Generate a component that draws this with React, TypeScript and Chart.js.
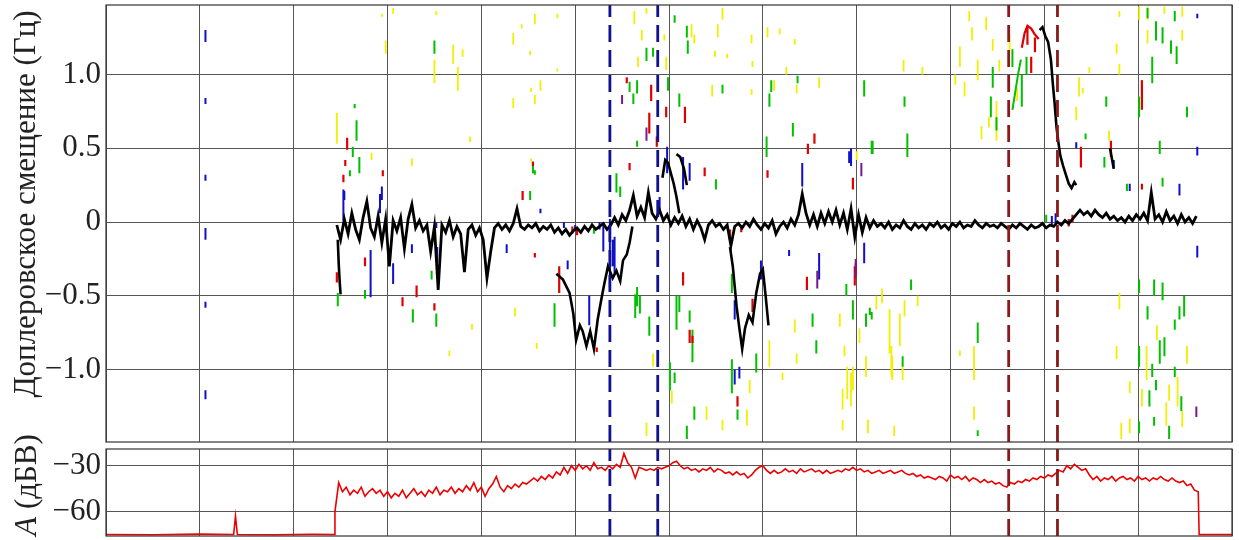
import React, { useEffect, useRef } from 'react';
import { Chart, registerables } from 'chart.js';

Chart.register(...registerables);

const FAMILY = "'Liberation Serif', 'Times New Roman', 'DejaVu Serif', serif";
const FONT_SIZE = 31;

// x axis: 12 equal (unlabelled) time intervals
const xGrid = [0, 1, 2, 3, 4, 5, 6, 7, 8, 9, 10, 11, 12];
const dopplerTicks = [-1, -0.5, 0, 0.5, 1];
const ampTicks = [-60, -45, -30];
const ampLabelled = [-60, -30];
const blueMarkers = [5.37, 5.88];
const redMarkers = [9.62, 10.14];

// amplitude (dBV)
const ampLeadIn: [number, number][] = [
  [0, -75], [0.5, -75.2], [1.0, -74.8], [1.36, -75], [1.38, -63], [1.4, -75],
  [1.8, -75.2], [2.2, -74.9], [2.43, -75],
];
const AMP_X0 = 2.44;
const AMP_DX = 0.04;
const ampValues = [
  -60, -41, -47, -44, -49, -46, -48, -44, -50, -47,
  -45, -48, -46, -50, -47, -51, -48, -50, -46, -51,
  -48, -45, -49, -47, -50, -46, -48, -44, -49, -46,
  -47, -44, -48, -45, -47, -43, -46, -41, -47, -44,
  -50, -45, -42, -37, -44, -47, -43, -45, -42, -44,
  -41, -42, -40, -38, -40, -37, -39, -36, -38, -34,
  -36, -31, -35, -30, -33, -29, -32, -30, -33, -28,
  -32, -31, -33, -30, -32, -29, -31, -22, -28, -31,
  -38, -31, -32, -33, -32, -33, -31, -32, -31, -30,
  -28, -27, -30, -32, -31, -33, -32, -34, -32, -33,
  -31, -34, -32, -33, -35, -34, -36, -34, -36, -35,
  -38, -36, -33, -31, -30, -33, -35, -33, -35, -34,
  -32, -34, -33, -35, -32, -34, -33, -32, -34, -33,
  -35, -33, -35, -34, -33, -34, -32, -33, -31, -33,
  -32, -34, -33, -35, -34, -33, -35, -34, -33, -35,
  -34, -33, -35, -36, -35, -37, -36, -38, -37, -38,
  -39, -37, -38, -40, -36, -38, -37, -39, -37, -40,
  -38, -39, -41, -39, -41, -40, -42, -41, -43, -44,
  -41, -42, -40, -41, -39, -40, -38, -39, -37, -38,
  -36, -37, -35, -33, -34, -30, -32, -29, -31, -33,
  -32, -36, -39, -37, -40, -38, -39, -37, -40, -38,
  -37, -39, -38, -40, -37, -39, -38, -40, -38, -39,
  -37, -39, -40, -38, -40, -41, -40, -43, -42, -46,
  -47,
];
const ampTail: [number, number][] = [[11.65, -75], [12, -75]];

// main Doppler trace (Hz)
const BLACK_X0 = 2.46;
const BLACK_DX = 0.04;
const blackValues = [
  -0.02, -0.12, 0.02, -0.08, 0.06, -0.05, -0.12, 0.03, 0.14, -0.04,
  -0.1, 0.04, -0.14, 0.02, -0.3, 0.01, -0.06, 0.03, -0.18, 0.02,
  0.12, -0.04, 0.01, -0.06, -0.02, -0.2, -0.03, -0.46, -0.02, -0.07,
  0.01, -0.1, -0.03, -0.08, -0.34, -0.05, -0.02, -0.09, -0.04, -0.12,
  -0.38, -0.2, -0.04, -0.01, -0.05, -0.02, -0.06, -0.01, 0.09, -0.03,
  -0.05, -0.02, -0.04, -0.01, -0.06, -0.03, -0.05, -0.02, -0.07, -0.04,
  -0.08, -0.05, -0.09, -0.06, -0.04, -0.07, -0.03, -0.06, -0.02, -0.05,
  -0.03, -0.01, -0.05, -0.02, 0.03, -0.02, 0.05, 0.01, 0.08, 0.18,
  0.04, 0.1, 0.03, 0.2, 0.06, 0.02, 0.08, 0.01, 0.05, -0.02,
  0.03, -0.01, 0.04, -0.03, 0.02, -0.05, 0.01, -0.04, -0.12, -0.02,
  0.01, -0.03, -0.01, -0.05, -0.02, -0.16, -0.03, -0.01, -0.04, 0.0,
  -0.03, 0.02, -0.02, -0.05, -0.01, -0.04, 0.01, -0.08, -0.03, 0.0,
  -0.04, 0.02, -0.02, 0.05, 0.19, 0.06, -0.02, 0.05, -0.03, 0.06,
  -0.01, 0.07, 0.0, 0.08, -0.02, 0.06, -0.05, 0.09, -0.1, 0.05,
  -0.07, 0.03, -0.04, 0.01, -0.03, -0.01, -0.04, 0.0, -0.05, -0.02,
  -0.04, 0.01, -0.03, -0.05, -0.01, -0.04, -0.02, -0.05, -0.01, -0.03,
  0.0, -0.04, -0.02, -0.05, -0.01, -0.03, 0.0, -0.04, -0.02, -0.03,
  0.01, -0.02, -0.04, -0.01, -0.03, -0.02, -0.04, -0.01, -0.03, -0.05,
  -0.02, -0.04, -0.01, -0.03, -0.05, -0.02, -0.04, -0.03, -0.01, -0.04,
  -0.02, -0.03, 0.0, -0.02, 0.01, -0.01, 0.02, 0.05, 0.08, 0.05,
  0.07, 0.04, 0.08, 0.05, 0.03, 0.06, 0.02, 0.04, 0.01, 0.03,
  0.0, 0.04, 0.01, 0.05, 0.02, 0.06, 0.01, 0.2, 0.02, 0.05,
  0.0, 0.07, 0.01, 0.04, -0.01, 0.05, 0.0, 0.03, -0.01, 0.04,
];

// secondary black traces [x, Hz]
const blackPaths: [number, number][][] = [
  [[2.47, -0.12], [2.48, -0.28], [2.49, -0.4], [2.5, -0.49]],
  [[4.8, -0.35], [4.87, -0.39], [4.94, -0.48], [4.98, -0.62], [5.01, -0.8], [5.05, -0.7], [5.08, -0.74], [5.12, -0.84], [5.16, -0.74], [5.2, -0.86], [5.24, -0.66], [5.28, -0.52], [5.31, -0.42], [5.35, -0.3], [5.4, -0.38], [5.44, -0.33], [5.48, -0.4], [5.51, -0.26], [5.55, -0.22], [5.58, -0.14], [5.61, -0.03]],
  [[5.93, 0.3], [5.96, 0.42], [5.99, 0.4], [6.02, 0.33], [6.05, 0.26], [6.08, 0.17], [6.11, 0.06]],
  [[6.08, 0.46], [6.12, 0.44], [6.16, 0.36], [6.19, 0.25]],
  [[6.65, -0.17], [6.68, -0.3], [6.72, -0.57], [6.75, -0.72], [6.78, -0.86], [6.81, -0.72], [6.85, -0.63], [6.89, -0.68], [6.93, -0.48], [6.97, -0.35], [7.0, -0.32], [7.03, -0.5], [7.06, -0.7]],
  [[9.95, 1.3], [9.98, 1.32], [10.01, 1.26], [10.04, 1.22], [10.07, 1.1], [10.09, 0.94], [10.11, 0.8], [10.13, 0.64], [10.15, 0.54], [10.17, 0.45], [10.2, 0.38], [10.23, 0.32], [10.26, 0.26], [10.29, 0.23], [10.32, 0.27], [10.34, 0.25]],
  [[10.7, 0.5], [10.74, 0.36]],
];
const redPaths: [number, number][][] = [
  [[9.76, 1.18], [9.79, 1.28], [9.82, 1.33], [9.86, 1.31], [9.9, 1.27], [9.94, 1.24]],
];
const greenPaths: [number, number][][] = [
  [[9.66, 0.76], [9.69, 0.88], [9.72, 1.0], [9.75, 1.1]],
];

// short spectral streaks [x, upper Hz, lower Hz]
const yellowStreaks: [number, number, number][] = [
  [3.06, 1.45, 1.41], [2.98, 1.23, 1.14], [2.94, 1.41, 1.39], [3.5, 1.1, 0.94], [3.52, 1.43, 1.4], [3.7, 1.2, 1.07], [3.8, 1.17, 1.12], [3.75, 1.05, 0.89], [3.88, 0.58, 0.54], [4.34, 1.28, 1.2], [4.43, 1.34, 1.31], [4.57, 1.41, 1.34], [4.52, 1.16, 1.13], [4.81, 1.41, 1.38], [4.81, 1.04, 1.02], [4.34, 0.84, 0.77], [4.53, 0.91, 0.88], [4.57, 0.86, 0.8], [4.63, 0.96, 0.89], [2.46, 0.74, 0.53], [2.83, 0.47, 0.42], [3.26, 0.43, 0.38], [4.53, 0.43, 0.41],
  [4.36, -0.58, -0.64], [3.9, -0.69, -0.73], [3.66, -0.87, -0.91], [4.59, -0.82, -0.86],
  [5.63, 1.43, 1.34], [5.76, 1.45, 1.41], [5.71, 1.3, 1.23], [5.95, 1.27, 1.23], [5.97, 1.12, 1.03], [6.24, 1.34, 1.25], [6.27, 1.27, 1.21], [6.52, 1.34, 1.25], [6.49, 1.16, 1.12], [6.57, 1.45, 1.37], [6.62, 1.14, 1.11], [6.88, 1.27, 1.21], [6.89, 1.09, 1.05], [7.05, 1.32, 1.25], [7.18, 1.31, 1.27], [7.34, 1.24, 1.2], [7.25, 1.05, 1.0], [6.46, 0.93, 0.85], [6.88, 0.9, 0.86], [7.12, 0.96, 0.89], [7.36, 0.93, 0.87], [7.6, 0.98, 0.91], [5.67, 1.12, 1.05],
  [7.07, -0.8, -0.98], [7.36, -0.89, -0.96], [7.34, -0.66, -0.75], [7.82, -0.62, -0.71], [7.87, -0.84, -0.91], [7.9, -0.98, -1.2], [7.94, -1.02, -1.25], [7.85, -1.13, -1.27], [8.12, -1.34, -1.43], [8.35, -0.66, -0.89], [8.38, -0.91, -1.07], [8.27, -0.45, -0.55], [5.76, -1.36, -1.45], [5.83, -0.89, -0.98], [6.03, -1.14, -1.23], [6.4, -1.25, -1.34], [6.57, -1.34, -1.41], [6.83, -1.27, -1.38], [6.86, -1.07, -1.16], [7.21, -1.02, -1.07], [7.85, -1.34, -1.41], [8.03, -0.72, -0.82],
  [9.1, 1.19, 1.05], [9.23, 1.32, 1.23], [9.29, 1.1, 0.96], [9.2, 1.43, 1.36], [9.38, 1.39, 1.3], [9.45, 1.24, 1.16], [9.49, 0.82, 0.55], [9.41, 0.71, 0.64], [9.63, 1.27, 1.16], [9.71, 0.91, 0.82], [10.37, 0.98, 0.85], [10.41, 0.91, 0.87], [10.48, 1.05, 1.01], [10.8, 1.43, 1.39], [10.77, 1.21, 1.14], [10.8, 1.07, 1.0], [11.47, 1.46, 1.39], [11.47, 1.3, 1.23], [11.01, 1.46, 1.37], [11.1, 1.46, 1.37], [11.1, 1.3, 1.21], [11.28, 1.46, 1.41], [10.34, 0.78, 0.69], [10.69, 0.62, 0.55], [8.0, 0.48, 0.42], [8.7, 1.05, 1.0], [8.5, 1.1, 1.02], [9.05, 1.0, 0.93], [9.15, 0.95, 0.85], [9.33, 0.65, 0.56], [9.52, 1.1, 1.02],
  [7.96, -0.98, -1.14], [8.1, -0.91, -1.05], [8.21, -0.5, -0.59], [8.35, -0.59, -0.71], [8.37, -0.84, -1.05], [8.46, -0.62, -0.84], [8.49, -0.98, -1.07], [8.51, -0.53, -0.64], [8.65, -0.5, -0.57], [8.4, -1.38, -1.45], [9.25, -0.84, -1.07], [9.1, -0.87, -0.91], [9.25, -1.25, -1.34], [10.8, -0.48, -0.59], [10.77, -0.84, -0.93], [10.91, -1.08, -1.16], [10.91, -1.33, -1.43], [10.82, -1.36, -1.47], [11.09, -0.84, -1.07], [11.42, -1.05, -1.25], [11.47, -1.28, -1.39], [11.33, -1.1, -1.21], [11.52, -0.84, -0.96], [11.04, -1.13, -1.25], [11.3, -1.22, -1.38], [11.2, -0.7, -0.8],
];
const greenStreaks: [number, number, number][] = [
  [2.67, 0.69, 0.55], [2.65, 0.8, 0.77], [2.63, 0.51, 0.44], [2.7, 0.44, 0.33], [4.55, 0.4, 0.33], [4.52, 0.21, 0.15], [3.5, 1.23, 1.14],
  [2.47, -0.48, -0.57], [2.76, -0.46, -0.52], [3.27, -0.59, -0.68], [3.47, -0.33, -0.39], [3.52, -0.62, -0.71], [2.6, 0.35, 0.31], [2.7, 0.36, 0.33], [4.57, 0.35, 0.32], [4.78, -0.6, -0.71], [5.2, -0.04, -0.08], [5.64, -0.49, -0.65],
  [6.06, 1.4, 1.35], [6.19, 1.33, 1.25], [6.2, 1.23, 1.14], [5.76, 1.18, 1.09], [5.83, 1.18, 1.12], [5.66, 0.96, 0.87], [5.58, 0.95, 0.88], [5.99, 0.98, 0.89], [6.57, 0.93, 0.87], [7.09, 0.96, 0.88], [7.37, 0.99, 0.94],
  [5.66, 0.55, 0.51], [5.48, 0.24, 0.17], [6.5, 0.29, 0.22], [7.04, 0.58, 0.44], [7.32, 0.67, 0.58], [7.07, 0.87, 0.78], [8.17, 0.55, 0.46], [6.11, 0.87, 0.78], [5.62, 0.87, 0.8], [5.44, 0.33, 0.2],
  [5.66, -0.44, -0.57], [6.11, -0.5, -0.61], [6.22, -0.6, -0.68], [6.67, -0.35, -0.48], [7.53, -0.62, -0.66], [7.57, -0.82, -0.86], [7.89, -0.44, -0.5], [8.1, -0.62, -0.71],
  [6.08, -0.5, -0.73], [6.01, -0.95, -1.14], [6.06, -1.02, -1.09], [6.25, -0.73, -0.95], [6.19, -1.38, -1.47], [6.67, -0.93, -1.16], [6.93, -0.89, -1.02], [6.73, -1.27, -1.34], [7.53, -0.64, -0.71], [7.57, -0.8, -0.89], [7.89, -0.42, -0.5], [8.16, -0.61, -0.66], [5.79, -0.64, -0.77], [5.69, -0.5, -0.62], [4.78, -0.55, -0.62], [6.27, -1.25, -1.34],
  [8.08, 0.96, 0.85], [8.51, 0.85, 0.78], [8.54, 0.6, 0.44], [8.16, 0.55, 0.46], [9.45, 1.05, 0.91], [9.43, 0.85, 0.71], [9.49, 0.71, 0.62], [9.76, 1.0, 0.78], [9.81, 1.12, 1.0], [9.66, 1.17, 1.05], [10.66, 0.85, 0.78], [10.44, 0.6, 0.56], [10.64, 0.44, 0.37], [11.01, 0.85, 0.71], [11.04, 0.96, 0.87], [11.15, 1.12, 0.94], [11.19, 1.36, 1.23], [11.26, 1.32, 1.21], [11.35, 1.23, 1.14], [11.41, 1.19, 1.07], [11.39, 1.43, 1.36], [11.23, 0.55, 0.46], [11.26, 0.3, 0.24], [11.52, 0.78, 0.71], [10.88, 0.26, 0.21], [10.02, 0.05, 0.0], [11.1, 1.45, 1.38],
  [7.96, -0.53, -0.66], [8.14, -0.58, -0.63], [8.58, -0.39, -0.46], [9.29, -0.68, -0.82], [9.29, -1.41, -1.45], [8.49, -0.91, -0.98], [11.17, -0.39, -0.5], [11.26, -0.41, -0.53], [11.49, -0.5, -0.64], [11.1, -0.57, -0.66], [11.23, -0.8, -0.96], [11.28, -0.78, -0.91], [11.15, -0.96, -1.05], [11.39, -0.66, -0.73], [11.44, -0.57, -0.66], [11.39, -0.98, -1.05], [11.19, -1.07, -1.14], [11.12, -1.14, -1.25], [11.46, -1.18, -1.28], [11.17, -1.32, -1.38], [11.33, -1.38, -1.47], [11.01, -0.39, -0.48], [11.01, -0.84, -0.98], [11.01, -1.35, -1.43],
];
const redStreaks: [number, number, number][] = [
  [2.57, 0.57, 0.49], [2.55, 0.42, 0.38], [2.53, 0.32, 0.27], [2.95, 0.35, 0.31], [4.55, 0.41, 0.38], [4.44, 0.21, 0.15],
  [2.46, -0.34, -0.41], [2.76, -0.24, -0.3], [3.31, -0.43, -0.51], [3.16, -0.51, -0.57], [3.5, -0.55, -0.6], [4.57, -0.21, -0.24], [4.83, -0.3, -0.48], [5.23, -0.85, -0.88], [4.97, -0.03, -0.08], [5.02, -0.04, -0.09],
  [5.55, 0.98, 0.94], [5.81, 0.93, 0.82], [5.79, 0.74, 0.6], [5.87, 0.58, 0.51], [5.58, 0.4, 0.35], [6.17, 0.78, 0.67], [6.38, 0.37, 0.31], [7.55, 0.6, 0.53], [7.48, 0.53, 0.46], [7.05, 0.35, 0.3], [5.97, 0.78, 0.71],
  [6.15, -0.34, -0.43], [7.47, -0.37, -0.46], [7.98, -0.3, -0.43], [6.89, -0.52, -0.61], [4.83, -0.38, -0.48], [6.65, -0.05, -0.12], [6.77, -0.02, -0.07], [6.22, -0.73, -0.82], [6.73, -1.18, -1.25], [6.25, -0.77, -0.82],
  [11.04, 0.96, 0.76], [10.39, 0.51, 0.37], [10.71, 0.55, 0.44], [9.86, 1.12, 1.01], [11.04, 0.26, 0.22], [7.96, 0.3, 0.22], [7.99, -0.28, -0.36],
  [9.82, 1.33, 1.2], [9.9, 1.25, 1.15], [10.26, 0.02, -0.03], [10.3, 0.05, 0.0],
];
const blueStreaks: [number, number, number][] = [
  [1.06, 1.3, 1.22], [1.06, 0.84, 0.8], [1.06, 0.32, 0.28], [1.06, -0.04, -0.12], [1.06, -0.54, -0.58], [1.06, -1.14, -1.2],
  [2.94, 0.24, 0.15], [2.54, 0.21, 0.15], [2.53, 0.22, 0.01], [2.92, 0.19, 0.06], [2.82, -0.19, -0.51], [3.06, -0.28, -0.42], [3.53, -0.17, -0.28], [3.26, -0.15, -0.21], [4.63, 0.09, 0.06], [4.27, -0.15, -0.21], [3.52, 0.0, -0.04], [4.92, -0.26, -0.32], [5.15, -0.5, -0.7], [5.37, 0.02, -0.45], [5.3, 0.0, -0.2], [5.26, 0.0, -0.05], [5.42, -0.1, -0.35],
  [5.98, 0.51, 0.33], [6.15, 0.44, 0.22], [6.22, 0.4, 0.28], [7.42, 0.4, 0.24], [7.92, 0.48, 0.4], [5.9, 0.17, 0.06], [5.4, -0.12, -0.3], [7.6, -0.21, -0.39], [6.98, -0.26, -0.39], [6.7, -0.53, -0.66], [7.28, -0.19, -0.23], [6.7, -1.0, -1.1], [6.75, -0.98, -1.06],
  [10.34, 0.54, 0.5], [10.74, 0.42, 0.37], [10.91, 0.26, 0.21], [11.44, 0.26, 0.18], [11.63, 1.41, 1.38], [11.63, 0.51, 0.45], [11.63, -0.16, -0.24], [7.94, 0.5, 0.38], [8.08, -0.14, -0.28], [10.08, 0.04, -0.02], [10.12, 0.06, 0.0], [5.0, -0.02, -0.06], [4.88, 0.0, -0.04],
];
const purpleStreaks: [number, number, number][] = [
  [5.76, 0.64, 0.55], [8.05, 0.4, 0.31], [11.62, -1.25, -1.32], [7.58, -0.33, -0.45], [7.99, -0.25, -0.38], [5.5, 0.86, 0.8],
];

type Pt = { x: number; y: number | null };

function streakData(streaks: [number, number, number][], paths: [number, number][][] = []): Pt[] {
  const out: Pt[] = [];
  for (const [x, a, b] of streaks) {
    out.push({ x, y: a }, { x, y: b }, { x, y: null });
  }
  for (const p of paths) {
    for (const [x, y] of p) out.push({ x, y });
    out.push({ x: p[p.length - 1][0], y: null });
  }
  return out;
}

function markerData(xs: number[], lo: number, hi: number): Pt[] {
  const out: Pt[] = [];
  for (const x of xs) out.push({ x, y: lo }, { x, y: hi }, { x, y: null });
  return out;
}

const frame = {
  id: 'frame',
  afterDraw(chart: any) {
    const { ctx, chartArea: a } = chart;
    ctx.save();
    ctx.strokeStyle = '#333';
    ctx.lineWidth = 1.2;
    ctx.strokeRect(a.left, a.top, a.right - a.left, a.bottom - a.top);
    ctx.restore();
  },
};

function yTitle(parts: { text: string; italic?: boolean }[], cx: number, cy: number, size: number) {
  return {
    id: 'ytitle',
    afterDraw(chart: any) {
      const ctx = chart.ctx;
      ctx.save();
      ctx.translate(cx, cy);
      ctx.rotate(-Math.PI / 2);
      ctx.fillStyle = '#222';
      ctx.textBaseline = 'middle';
      ctx.textAlign = 'left';
      const fonts = parts.map((p) => `${p.italic ? 'italic ' : ''}${size}px ${FAMILY}`);
      const widths = parts.map((p, i) => {
        ctx.font = fonts[i];
        return ctx.measureText(p.text).width;
      });
      let x = -widths.reduce((s, w) => s + w, 0) / 2;
      parts.forEach((p, i) => {
        ctx.font = fonts[i];
        ctx.fillText(p.text, x, 0);
        x += widths[i];
      });
      ctx.restore();
    },
  };
}

const fmt = (v: number, digits: number) =>
  v === 0 ? '0' : (v < 0 ? '\u2212' : '') + Math.abs(v).toFixed(digits);

function xScale() {
  return {
    type: 'linear',
    min: 0,
    max: 12,
    afterBuildTicks: (s: any) => {
      s.ticks = xGrid.map((v) => ({ value: v }));
    },
    afterFit: (s: any) => {
      s.height = 0;
      s.paddingLeft = 0;
      s.paddingRight = 0;
    },
    grid: { color: '#555', lineWidth: 1, drawTicks: false },
    border: { display: false },
    ticks: { display: false },
  };
}

export default function App() {
  const topRef = useRef<HTMLCanvasElement>(null);
  const botRef = useRef<HTMLCanvasElement>(null);

  useEffect(() => {
    let cancelled = false;
    let top: Chart | null = null;
    let bot: Chart | null = null;

    const build = () => {
      if (cancelled) return;
      const yMinT = -1.49;
      const yMaxT = 1.47;
      const lineDs = (label: string, data: Pt[], color: string, width: number, order: number, extra: any = {}) => ({
        label,
        data,
        borderColor: color,
        backgroundColor: color,
        borderWidth: width,
        pointRadius: 0,
        spanGaps: false,
        tension: 0,
        order,
        ...extra,
      });

      const mainBlack: Pt[] = blackValues.map((v, i) => ({ x: BLACK_X0 + i * BLACK_DX, y: v }));

      top = new Chart(topRef.current!, {
        type: 'line',
        data: {
          datasets: [
            lineDs('blue markers', markerData(blueMarkers, yMinT, yMaxT), '#11118f', 2.8, 0, { borderDash: [17, 8] }),
            lineDs('dark red markers', markerData(redMarkers, yMinT, yMaxT), '#8a1a1a', 2.8, 0, { borderDash: [17, 8] }),
            lineDs('main', mainBlack, '#000000', 2.8, 1),
            lineDs('black branches', streakData([], blackPaths), '#000000', 2.6, 1),
            lineDs('purple', streakData(purpleStreaks), '#7a1a8a', 2, 2),
            lineDs('blue', streakData(blueStreaks), '#1010c8', 2, 3),
            lineDs('red', streakData(redStreaks, redPaths), '#e00000', 2.2, 4),
            lineDs('green', streakData(greenStreaks, greenPaths), '#00c000', 2, 5),
            lineDs('yellow', streakData(yellowStreaks), '#f0f000', 1.8, 6),
          ],
        },
        options: {
          responsive: false,
          animation: false,
          devicePixelRatio: 1,
          layout: { padding: { top: 5, bottom: 4, right: 7, left: 0 } },
          plugins: { legend: { display: false }, tooltip: { enabled: false } },
          scales: {
            x: xScale() as any,
            y: {
              type: 'linear',
              min: yMinT,
              max: yMaxT,
              afterBuildTicks: (s: any) => {
                s.ticks = dopplerTicks.map((v) => ({ value: v }));
              },
              afterFit: (s: any) => {
                s.width = 106;
                s.paddingTop = 0;
                s.paddingBottom = 0;
              },
              grid: { color: '#555', lineWidth: 1, drawTicks: false },
              border: { display: false },
              ticks: {
                padding: 5,
                color: '#222',
                font: { family: FAMILY, size: FONT_SIZE },
                callback: (v: any) => fmt(Number(v), 1),
              },
            },
          },
        },
        plugins: [frame, yTitle([{ text: 'Доплеровское смещение (Гц)' }], 27, 204, FONT_SIZE)],
      } as any);

      const yMinB = -76;
      const yMaxB = -19;
      const ampData: Pt[] = [
        ...ampLeadIn.map(([x, y]) => ({ x, y })),
        ...ampValues.map((v, i) => ({ x: AMP_X0 + i * AMP_DX, y: v })),
        ...ampTail.map(([x, y]) => ({ x, y })),
      ];

      bot = new Chart(botRef.current!, {
        type: 'line',
        data: {
          datasets: [
            lineDs('blue markers', markerData(blueMarkers, yMinB, yMaxB), '#11118f', 2.8, 0, { borderDash: [17, 8] }),
            lineDs('dark red markers', markerData(redMarkers, yMinB, yMaxB), '#8a1a1a', 2.8, 0, { borderDash: [17, 8] }),
            lineDs('A', ampData, '#ee0000', 1.6, 1),
          ],
        },
        options: {
          responsive: false,
          animation: false,
          devicePixelRatio: 1,
          layout: { padding: { top: 29, bottom: 4, right: 7, left: 0 } },
          plugins: { legend: { display: false }, tooltip: { enabled: false } },
          scales: {
            x: xScale() as any,
            y: {
              type: 'linear',
              min: yMinB,
              max: yMaxB,
              afterBuildTicks: (s: any) => {
                s.ticks = ampTicks.map((v) => ({ value: v }));
              },
              afterFit: (s: any) => {
                s.width = 106;
                s.paddingTop = 0;
                s.paddingBottom = 0;
              },
              grid: { color: '#555', lineWidth: 1, drawTicks: false },
              border: { display: false },
              ticks: {
                padding: 5,
                color: '#222',
                font: { family: FAMILY, size: FONT_SIZE },
                callback: (v: any) => (ampLabelled.includes(Number(v)) ? fmt(Number(v), 0) : ''),
              },
            },
          },
        },
        plugins: [frame, yTitle([{ text: 'A', italic: true }, { text: ' (дБВ)' }], 28, 65, FONT_SIZE)],
      } as any);
    };

    const fonts: any = (document as any).fonts;
    if (fonts && fonts.load) {
      Promise.all([
        fonts.load(`${FONT_SIZE}px 'Liberation Serif'`, 'Доплеровское 0123456789'),
        fonts.load(`italic ${FONT_SIZE}px 'Liberation Serif'`, 'A'),
      ])
        .catch(() => null)
        .then(build);
    } else {
      build();
    }

    return () => {
      cancelled = true;
      if (top) top.destroy();
      if (bot) bot.destroy();
    };
  }, []);

  return (
    <div style={{ position: 'absolute', left: 0, top: 0, width: 1239, height: 540, background: '#fff', overflow: 'hidden' }}>
      <canvas ref={topRef} width={1239} height={446} style={{ position: 'absolute', left: 0, top: 0 }} />
      <canvas ref={botRef} width={1239} height={120} style={{ position: 'absolute', left: 0, top: 420 }} />
    </div>
  );
}
